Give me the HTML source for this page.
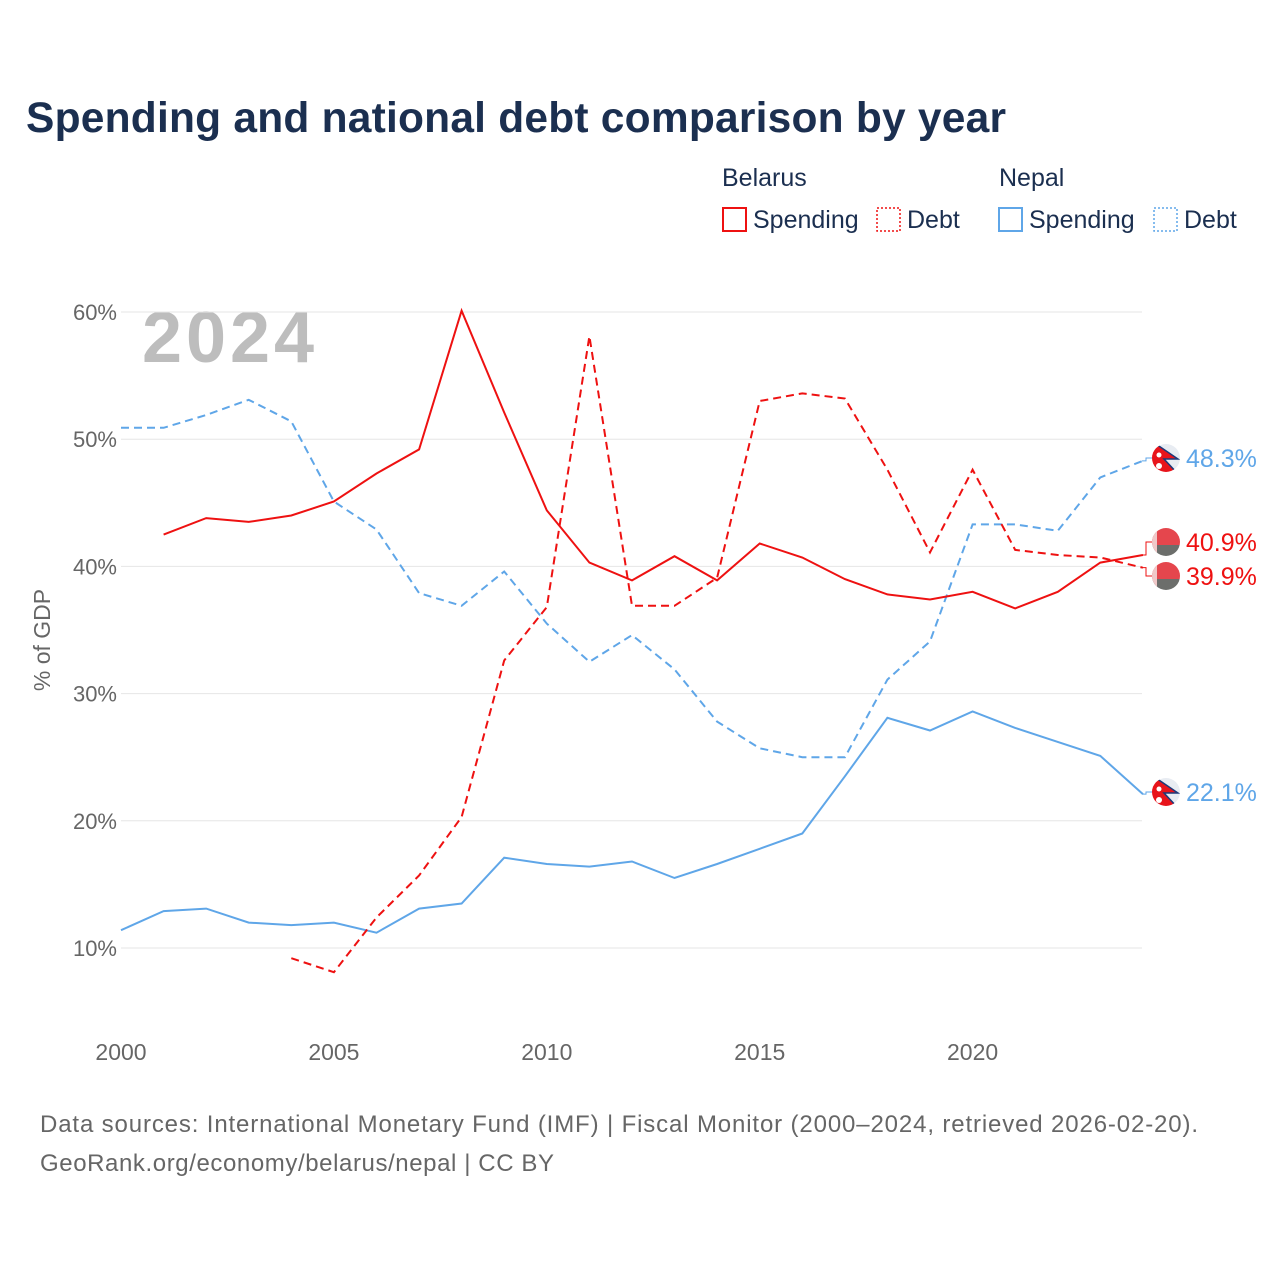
<!DOCTYPE html>
<html><head><meta charset="utf-8"><style>
body{margin:0;background:#fff;font-family:"Liberation Sans",sans-serif}
#wrap{position:relative;width:1280px;height:1280px;overflow:hidden}
</style></head><body>
<div id="wrap">
<svg id="chart" width="1280" height="1280">
<text x="26" y="132" font-size="42.5" font-weight="bold" fill="#1b2f50" textLength="980">Spending and national debt comparison by year</text>
<g font-size="25" fill="#1b2f50">
<text x="722" y="186">Belarus</text>
<text x="999" y="186">Nepal</text>
<g><rect x="723" y="208" width="23" height="23" fill="none" stroke="#ee1111" stroke-width="2"/><text x="753" y="228">Spending</text></g>
<g><rect x="877" y="208" width="23" height="23" fill="none" stroke="#ee1111" stroke-width="1.5" stroke-dasharray="2,2"/><text x="907" y="228">Debt</text></g>
<g><rect x="999" y="208" width="23" height="23" fill="none" stroke="#5fa6e8" stroke-width="2"/><text x="1029" y="228">Spending</text></g>
<g><rect x="1154" y="208" width="23" height="23" fill="none" stroke="#5fa6e8" stroke-width="1.5" stroke-dasharray="2,2"/><text x="1184" y="228">Debt</text></g>
</g>
<text x="142" y="362" font-size="72" font-weight="bold" fill="#bdbdbd" textLength="172">2024</text>
<g id="grid"></g><g id="ticks"></g><g id="series"></g><g id="ends"></g>
<text transform="translate(50,640) rotate(-90)" text-anchor="middle" font-size="23" fill="#666">% of GDP</text>
<text x="40" y="1132" font-size="24" fill="#666" textLength="1158">Data sources: International Monetary Fund (IMF) | Fiscal Monitor (2000–2024, retrieved 2026-02-20).</text>
<text x="40" y="1171" font-size="24" fill="#666" textLength="514">GeoRank.org/economy/belarus/nepal | CC BY</text>
</svg></div>
<script>
const years=[2000,2001,2002,2003,2004,2005,2006,2007,2008,2009,2010,2011,2012,2013,2014,2015,2016,2017,2018,2019,2020,2021,2022,2023,2024];
const belarusSpending=[null,42.5,43.8,43.5,44.0,45.1,47.3,49.2,60.1,52.1,44.4,40.3,38.9,40.8,38.9,41.8,40.7,39.0,37.8,37.4,38.0,36.7,38.0,40.3,40.9];
const belarusDebt=[null,null,null,null,9.2,8.1,12.4,15.7,20.3,32.6,36.8,58.1,36.9,36.9,39.1,53.0,53.6,53.2,47.6,41.1,47.6,41.3,40.9,40.7,39.9];
const nepalSpending=[11.4,12.9,13.1,12.0,11.8,12.0,11.2,13.1,13.5,17.1,16.6,16.4,16.8,15.5,16.6,17.8,19.0,23.5,28.1,27.1,28.6,27.3,26.2,25.1,22.1];
const nepalDebt=[50.9,50.9,51.9,53.1,51.4,45.1,42.9,37.9,36.9,39.6,35.5,32.5,34.6,31.9,27.8,25.7,25.0,25.0,31.1,34.1,43.3,43.3,42.8,47.0,48.3];
const yTicks=[10,20,30,40,50,60];
const xTicks=[2000,2005,2010,2015,2020];
const NS="http://www.w3.org/2000/svg";
const X=y=>121+(y-2000)*42.58, Y=v=>948-(v-10)*12.72;
function mk(t,a,p){const e=document.createElementNS(NS,t);for(const k in a)e.setAttribute(k,a[k]);(typeof p==='string'?document.getElementById(p):p).appendChild(e);return e;}
yTicks.forEach(v=>{
 const l=mk('line',{x1:121,x2:1142,y1:Y(v),y2:Y(v),stroke:'#e6e6e6','stroke-width':1},'grid');
 
 
 const t=mk('text',{x:117,y:Y(v)+8,'text-anchor':'end','font-size':22,fill:'#666'},'ticks');t.textContent=v+'%';
 
 
});
xTicks.forEach(v=>{
 const t=mk('text',{x:X(v),y:1060,'text-anchor':'middle','font-size':23,fill:'#666'},'ticks');t.textContent=v;
 
 
});
function line(vals,col,dash,name){
 let d='',pen=false;vals.forEach((v,i)=>{if(v==null){pen=false;return;}d+=(pen?'L':'M')+X(years[i]).toFixed(1)+','+Y(v).toFixed(1);pen=true;});
 const p=mk('path',{d:d,fill:'none',stroke:col,'stroke-width':2,'stroke-dasharray':dash?'8,5':'none'},'series');
 
 
}
const RED='#ee1111',BLUE='#5fa6e8';
line(nepalDebt,BLUE,true,'line-nepal-debt');
line(nepalSpending,BLUE,false,'line-nepal-spending');
line(belarusDebt,RED,true,'line-belarus-debt');
line(belarusSpending,RED,false,'line-belarus-spending');
let cid=0;
function endLabel(val,ly,col,flag,name){
 const g=mk('g',{},'ends');
 
 
 const y0=Y(val);
 mk('path',{d:`M1142,${y0}H1146V${ly}H1152`,stroke:col,fill:'none'},g);
 const cx=1166;cid++;
 const cp=mk('clipPath',{id:'c'+cid},g);mk('circle',{cx:cx,cy:ly,r:14},cp);
 const fg=mk('g',{'clip-path':`url(#c${cid})`},g);
 if(flag==='np'){
  mk('rect',{x:cx-14,y:ly-14,width:28,height:28,fill:'#e8ecf2'},fg);
  mk('path',{d:`M${cx-16},${ly-18}L${cx+12},${ly+1}H${cx-2}L${cx+12},${ly+16}H${cx-16}Z`,fill:'#e8141b',stroke:'#1b3a7a','stroke-width':1.5},fg);
  mk('circle',{cx:cx-7,cy:ly-3,r:2.5,fill:'#fff'},fg);
  mk('circle',{cx:cx-7,cy:ly+8,r:3,fill:'#fff'},fg);
 } else {
  mk('rect',{x:cx-14,y:ly-14,width:28,height:17,fill:'#e5464d'},fg);
  mk('rect',{x:cx-14,y:ly+3,width:28,height:12,fill:'#6c6e6b'},fg);
  mk('rect',{x:cx-14,y:ly-14,width:5,height:28,fill:'#f0c8c8'},fg);
 }
 const t=mk('text',{x:1186,y:ly+9,'font-size':25,fill:col},g);t.textContent=val.toFixed(1)+'%';
}
endLabel(nepalDebt[24],458,BLUE,'np','end-label-nepal-debt');
endLabel(belarusSpending[24],542,RED,'by','end-label-belarus-spending');
endLabel(belarusDebt[24],576,RED,'by','end-label-belarus-debt');
endLabel(nepalSpending[24],792,BLUE,'np','end-label-nepal-spending');
</script>
</body></html>
